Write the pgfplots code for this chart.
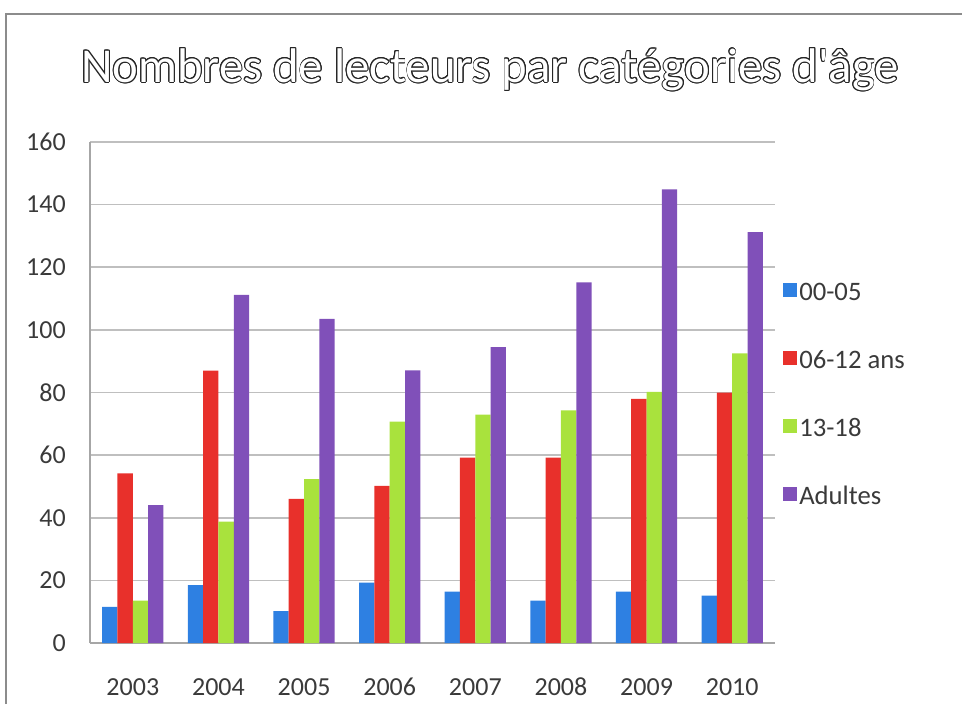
\documentclass[border=0pt]{standalone}
\usepackage{pgfplots}
\pgfplotsset{compat=1.18}
\usepackage{fontspec}
\setmainfont{Carlito}
\newfontfamily\titlefont{Carlito}[Ligatures=TeXOff]
\usepackage{contour}
\contourlength{0.65pt}
\definecolor{cA}{HTML}{2E80E2}
\definecolor{cB}{HTML}{E8302B}
\definecolor{cC}{HTML}{A9E23D}
\definecolor{cD}{HTML}{8050B9}
\definecolor{txt}{HTML}{3A3A3A}
\begin{document}
\begin{tikzpicture}[x=0.75pt,y=0.75pt]
\path[use as bounding box] (0,0) rectangle (962,704);
\draw[line width=1.5pt, color=black!45] (6,0) -- (6,690) -- (962,690);
\node[font=\titlefont\fontsize{36.5}{42}\selectfont] at (490,634) {\color{white}\contour{black!85}{Nombres de lecteurs par catégories d'âge}};
\begin{axis}[
  at={(67.5pt,45.75pt)}, anchor=south west,
  scale only axis, width=513.75pt, height=375.75pt,
  ybar=0pt, bar width=11.5pt,
  xmin=-0.5, xmax=7.5, ymin=0, ymax=160,
  ytick={0,20,...,160},
  xtick={0,...,7}, xticklabels={2003,2004,2005,2006,2007,2008,2009,2010},
  axis x line*=bottom, axis y line*=left,
  ymajorgrids, grid style={color=black!25, line width=1.2pt},
  axis line style={color=black!35, line width=1.2pt},
  major tick length=0pt,
  /pgf/number format/assume math mode=true,
  tick label style={font=\fontsize{19.5}{22}\selectfont, text=txt},
  yticklabel style={anchor=east, inner sep=0pt, xshift=-18pt},
  xticklabel style={anchor=base, inner sep=0pt, yshift=-39pt},
  legend image code/.code={\fill[#1] (0pt,-2pt) rectangle (10pt,8pt);},
  legend cell align=left,
  legend style={at={(1.0117,0.725)}, anchor=north west, draw=none, fill=none,
    inner sep=0pt, row sep=30pt,
    font=\fontsize{20}{22}\selectfont, text=txt,
    nodes={inner sep=2pt, text height=13pt, text depth=4pt},
    /tikz/every even column/.append style={column sep=0pt}},
]
\addplot[fill=cA, draw=none] coordinates {(0,11.5) (1,18.5) (2,10.2) (3,19.3) (4,16.4) (5,13.5) (6,16.4) (7,15.1)};
\addplot[fill=cB, draw=none] coordinates {(0,54.2) (1,87) (2,46) (3,50.2) (4,59.2) (5,59.2) (6,78) (7,80)};
\addplot[fill=cC, draw=none] coordinates {(0,13.5) (1,38.8) (2,52.3) (3,70.7) (4,72.9) (5,74.3) (6,80.2) (7,92.5)};
\addplot[fill=cD, draw=none] coordinates {(0,44) (1,111.2) (2,103.5) (3,87.1) (4,94.5) (5,115.2) (6,144.9) (7,131.2)};
\addlegendentry{00-05}
\addlegendentry{06-12 ans}
\addlegendentry{13-18}
\addlegendentry{Adultes}
\end{axis}
\end{tikzpicture}
\end{document}
